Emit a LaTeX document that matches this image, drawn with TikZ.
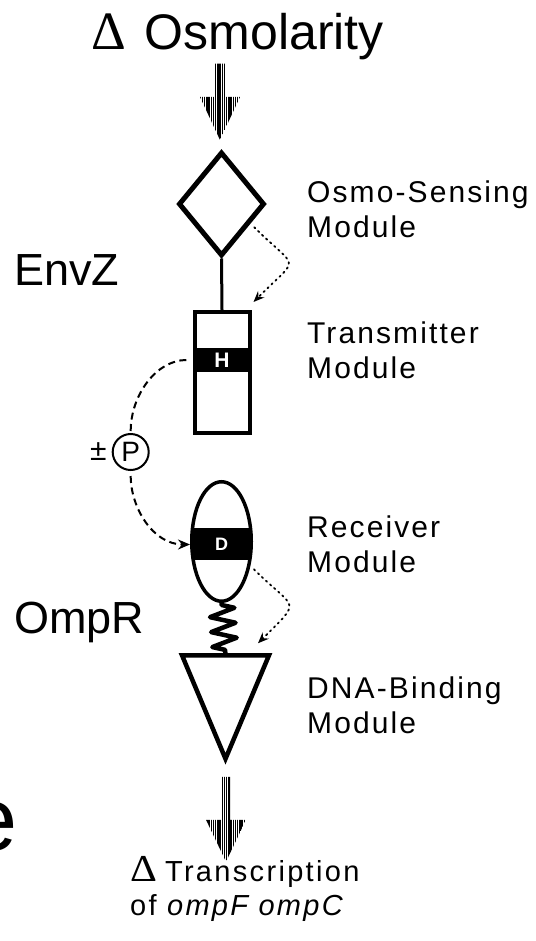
\documentclass[tikz,border=0pt]{standalone}
\usepackage[no-math]{fontspec}
\setmainfont{Liberation Sans}
\newfontfamily\lblfont[LetterSpace=7]{Liberation Sans}
\newfontfamily\txnfont[LetterSpace=8]{Liberation Sans}
\newfontfamily\deltafont{Liberation Serif}
\usetikzlibrary{
  shapes.geometric,
  arrows.meta,
  positioning, calc,
  decorations.pathmorphing, patterns.meta
}
\tikzset{
  sensor/.style={diamond,draw,line width=5pt,minimum width=86pt,minimum height=104pt,
    inner sep=0pt,aspect=0.83},
  txbox/.style={rectangle,draw,line width=4pt,minimum width=55pt,minimum height=121pt,inner sep=0pt},
  rxoval/.style={ellipse,draw,line width=3.5pt,minimum width=59.5pt,minimum height=119.5pt,inner sep=0pt,
    path picture={\fill ($(path picture bounding box.center)+(-40,-13.5)$) rectangle
      ($(path picture bounding box.center)+(40,18.5)$);}},
  dbbox/.style={rectangle,minimum width=87pt,minimum height=103.5pt,inner sep=0pt,outer sep=0pt},
  band/.style={fill=black,text=white,inner sep=0pt,font=\bfseries\fontsize{21}{21}\selectfont},
  hatch/.style={pattern={Lines[angle=90,distance=2.2pt,line width=1.4pt]},pattern color=black},
  modlbl/.style={anchor=base west,align=left,inner sep=0pt,font=\lblfont\fontsize{30}{35}\selectfont},
  protlbl/.style={anchor=base west,inner sep=0pt,font=\fontsize{45}{45}\selectfont}
}

\begin{document}
\begin{tikzpicture}[
  x=1pt,y=-1pt,
  dotarr/.style={line width=1.8pt,dash pattern=on 1.5pt off 4pt,line cap=round,
    -{Stealth[length=11pt,width=9pt,inset=4pt]}},
  dashline/.style={line width=2pt,dash pattern=on 7pt off 4.5pt},
  spring/.style={line width=4.5pt,line join=round,decorate,
    decoration={zigzag,segment length=15pt,amplitude=12.5pt,pre length=2pt,post length=2pt}}
]
\useasboundingbox (0,0) rectangle (535,941);

% Signal
\node[anchor=base west,inner sep=0pt,font=\fontsize{50}{50}\selectfont] (signal) at (91,50)
  {{\deltafont\fontsize{54}{54}\selectfont Δ}\hspace{19pt}Osmolarity};

% EnvZ
\node[sensor] (osmo) at (221.5,204) {};
\node[txbox] (trans) at (222,372.5) {};
\node[band,minimum width=55pt,minimum height=24pt] (hband) at (222,360) {H};
\draw[line width=3pt] (osmo.south) -- (trans.north);

% OmpR
\node[rxoval] (recv) at (221.5,541.5) {};
\node[text=white,inner sep=0pt,font=\bfseries\fontsize{18}{18}\selectfont] (dlabel) at (221.5,544) {D};
\node[dbbox] (dbm) at (225.5,707) {};
\draw[line width=4.5pt] (dbm.north west) -- (dbm.north east) -- (dbm.south) -- cycle;
\draw[spring] (recv.south) -- (dbm.north);

% Phosphoryl transfer
\node[circle,draw,line width=2pt,minimum size=36pt,inner sep=0pt,font=\fontsize{28}{28}\selectfont]
  (phos) at (130.7,452) {P};
\node[left=5pt of phos,inner sep=0pt,font=\fontsize{30}{30}\selectfont] (pm) {±};
\draw[dashline,shorten <=8pt,shorten >=2pt] (hband.west) to[out=180,in=90] (phos.north);
\draw[dashline,-{Stealth[length=12pt,width=10pt,inset=4pt]},shorten <=5pt]
  (phos.south) to[out=-90,in=180] ($(recv.west)+(0,3)$);

% Intramolecular signals
\draw[dotarr,shorten <=5pt] (osmo.-34) to[out=-45,in=45,looseness=2.2] ($(trans.north east)+(2,-8)$);
\draw[dotarr,shorten <=5pt] (recv.-40) to[out=-45,in=45,looseness=2.1] ($(dbm.north east)+(-11,-12)$);

% Input and output arrows
\coordinate (inTop) at ($(signal.south -| osmo.north)+(-1.5,3)$);
\coordinate (inTip) at ($(osmo.north)+(-1.5,-9.5)$);
\fill[hatch] ($(inTop)+(-5,0)$) -- ($(inTip)+(-5,-43)$) -- ($(inTip)+(-20,-43)$) -- (inTip)
  -- ($(inTip)+(20,-43)$) -- ($(inTip)+(5,-43)$) -- ($(inTop)+(5,0)$) -- cycle;
\coordinate (outTop) at ($(dbm.south)+(0.5,18)$);
\coordinate (outTip) at ($(dbm.south)+(0.5,103)$);
\fill[hatch] ($(outTop)+(-4,0)$) -- ($(outTip)+(-4,-42)$) -- ($(outTip)+(-20,-42)$) -- (outTip)
  -- ($(outTip)+(20,-42)$) -- ($(outTip)+(4,-42)$) -- ($(outTop)+(4,0)$) -- cycle;

\node[anchor=base west,align=left,inner sep=0pt,font=\txnfont\fontsize{29}{34}\selectfont] (txn) at (130,915)
  {{\deltafont\fontsize{38}{38}\selectfont\scalebox{1.1}[1]{Δ}}\hspace{8pt}Transcription\\of \textit{ompF ompC}};

% Labels
\node[protlbl] (envz) at (14,285) {EnvZ};
\node[protlbl] (ompr) at (14,633) {OmpR};
\node[modlbl] (osmolbl) at (307,237) {Osmo-Sensing\\Module};
\node[modlbl] (translbl) at (307,378) {Transmitter\\Module};
\node[modlbl] (recvlbl) at (307,572) {Receiver\\Module};
\node[modlbl] (dnalbl) at (307,733) {DNA-Binding\\Module};
\node[anchor=base east,inner sep=0pt,font=\fontsize{90}{90}\selectfont] (frag) at (18,850) {e};

\end{tikzpicture}
\end{document}
